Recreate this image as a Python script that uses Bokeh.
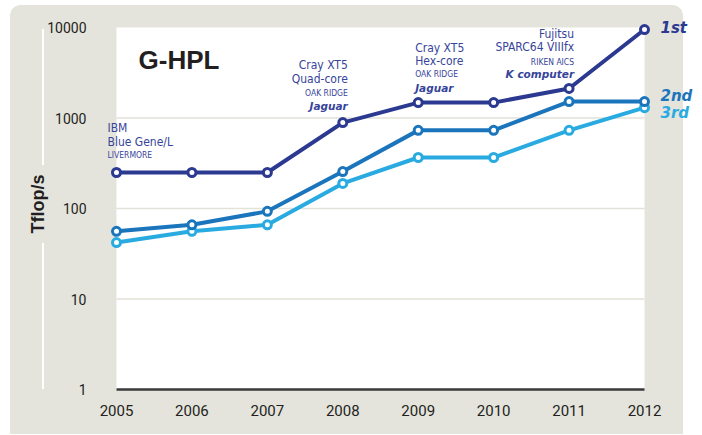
from bokeh.plotting import figure
from bokeh.models import Range1d, FixedTicker, BoxAnnotation
from bokeh.core.properties import value
from bokeh.embed import file_html
from bokeh.resources import INLINE

# ---- data ----
years = [2005, 2006, 2007, 2008, 2009, 2010, 2011, 2012]
first = [250, 250, 250, 890, 1480, 1480, 2120, 9500]
second = [56, 66, 93, 256, 730, 730, 1520, 1520]
third = [42, 56, 66, 189, 366, 366, 730, 1300]
y_ticks = [1, 10, 100, 1000, 10000]
y_tick_labels = ["1", "10", "100", "1000", "10000"]
grid_values = [10, 100, 1000]
rank_labels = ["1st", "2nd", "3rd"]
ann_years = [2005, 2008, 2009, 2011]
ann_system = [["IBM", "Blue Gene/L"], ["Cray XT5", "Quad-core"],
              ["Cray XT5", "Hex-core"], ["Fujitsu", "SPARC64 VIIIfx"]]
ann_site = ["LIVERMORE", "OAK RIDGE", "OAK RIDGE", "RIKEN AICS"]
ann_name = ["", "Jaguar", "Jaguar", "K computer"]
title_text = "G-HPL"
y_label = "Tflop/s"

# ---- styles ----
C1, C2, C3 = "#2b3990", "#1b75bc", "#29abe2"
TXT = "#36449a"
PANEL = "#e4e4dc"
DARK = "#231f20"
NARROW = "DejaVu Sans Condensed"
TICKF = "Roboto"

panel_css = (
    f"radial-gradient(circle at 100% 100%, {PANEL} 9.5px, #fff 10px) 10px 5px / 10px 10px no-repeat, "
    f"radial-gradient(circle at 0% 100%, {PANEL} 9.5px, #fff 10px) 673px 5px / 10px 10px no-repeat, "
    "linear-gradient(#fff,#fff) 42px 29px / 2px 136px no-repeat, "
    "linear-gradient(#fff,#fff) 42px 243px / 2px 146px no-repeat, "
    "linear-gradient(#fff,#fff) 0 0 / 100% 5px no-repeat, "
    f"linear-gradient(to right, #fff 10px, {PANEL} 10px, {PANEL} 683px, #fff 683px)"
)

p = figure(width=700, height=434,
           x_range=Range1d(2004.8542, 2012.7424),
           y_range=Range1d(0.9265, 13572),
           y_axis_type="log",
           output_backend="svg", toolbar_location=None,
           min_border_left=105, min_border_right=0,
           min_border_top=15, min_border_bottom=42,
           styles={"background": panel_css})
p.background_fill_alpha = 0
p.border_fill_alpha = 0
p.outline_line_color = None
p.xgrid.visible = False
p.ygrid.visible = False

# white plotting panel
p.add_layout(BoxAnnotation(left=years[0], right=years[-1], bottom=y_ticks[0], top=y_ticks[-1],
                           fill_color="white", fill_alpha=1, line_color=None, level="underlay"))

# axes
p.xaxis.ticker = FixedTicker(ticks=years)
p.yaxis.ticker = FixedTicker(ticks=y_ticks)
p.yaxis.major_label_overrides = {t: l for t, l in zip(y_ticks, y_tick_labels)}
for ax in (p.xaxis, p.yaxis):
    ax.axis_line_color = None
    ax.major_tick_line_color = None
    ax.minor_tick_line_color = None
    ax.major_label_text_font = TICKF
    ax.major_label_text_color = DARK
p.xaxis.major_label_text_font_size = "15px"
p.yaxis.major_label_text_font_size = "14px"
p.xaxis.major_label_standoff = 6
p.yaxis.major_label_standoff = 13
p.yaxis.axis_label = y_label
p.yaxis.axis_label_text_font = "Liberation Sans"
p.yaxis.axis_label_text_font_style = "bold"
p.yaxis.axis_label_text_font_size = "18px"
p.yaxis.axis_label_text_color = DARK
p.yaxis.axis_label_standoff = -4

# grid lines and baseline
p.segment(x0=[years[0]] * len(grid_values), x1=[years[-1]] * len(grid_values),
          y0=grid_values, y1=grid_values, line_color="#e2e2d9", line_width=1.5)
p.segment(x0=[years[0]], x1=[years[-1]], y0=[y_ticks[0]], y1=[y_ticks[0]],
          line_color="#3a3a3a", line_width=2.5)

# series
for s, c in [(third, C3), (second, C2), (first, C1)]:
    p.line(years, s, line_color=c, line_width=4)
    p.scatter(years, s, size=8, fill_color="white", line_color=c, line_width=3)

# title
p.text(x=[years[0]], y=[y_ticks[-1]], text=[title_text], x_offset=22, y_offset=32,
       text_font=value("Liberation Sans"), text_font_style="bold", text_font_size="26px",
       text_color=DARK, text_baseline="middle", text_align="left")

# annotations
ann_style = {
    2005: dict(xo=-9, align="left", sys=[-44, -30], site=-17, name=None),
    2008: dict(xo=5, align="right", sys=[-57.5, -44], site=-29.5, name=-17),
    2009: dict(xo=-3, align="left", sys=[-55, -42], site=-28.5, name=-15),
    2011: dict(xo=5, align="right", sys=[-54, -41], site=-26.5, name=-14),
}
for yr, sys_lines, site, name in zip(ann_years, ann_system, ann_site, ann_name):
    st = ann_style[yr]
    ax_ = yr
    ay_ = first[years.index(yr)]
    for line, yo in zip(sys_lines, st["sys"]):
        p.text(x=[ax_], y=[ay_], text=[line], x_offset=st["xo"], y_offset=yo,
               text_font=value(NARROW), text_font_size="12px", text_color=TXT,
               text_align=st["align"], text_baseline="middle")
    p.text(x=[ax_], y=[ay_], text=[site], x_offset=st["xo"], y_offset=st["site"],
           text_font=value(NARROW), text_font_size="8.5px", text_color=TXT,
           text_align=st["align"], text_baseline="middle")
    if name:
        p.text(x=[ax_], y=[ay_], text=[name], x_offset=st["xo"], y_offset=st["name"],
               text_font=value("DejaVu Sans"), text_font_style="bold italic",
               text_font_size="10.5px", text_color=TXT,
               text_align=st["align"], text_baseline="middle")

# rank labels
for lab, s, c, yo in zip(rank_labels, [first, second, third], [C1, C2, C3], [-2, -6, 5]):
    p.text(x=[years[-1]], y=[s[-1]], text=[lab], x_offset=16, y_offset=yo,
           text_font=value("DejaVu Sans"), text_font_style="bold italic",
           text_font_size="15px", text_color=c, text_align="left", text_baseline="middle")

open("out.html", "w").write(file_html(p, INLINE))
